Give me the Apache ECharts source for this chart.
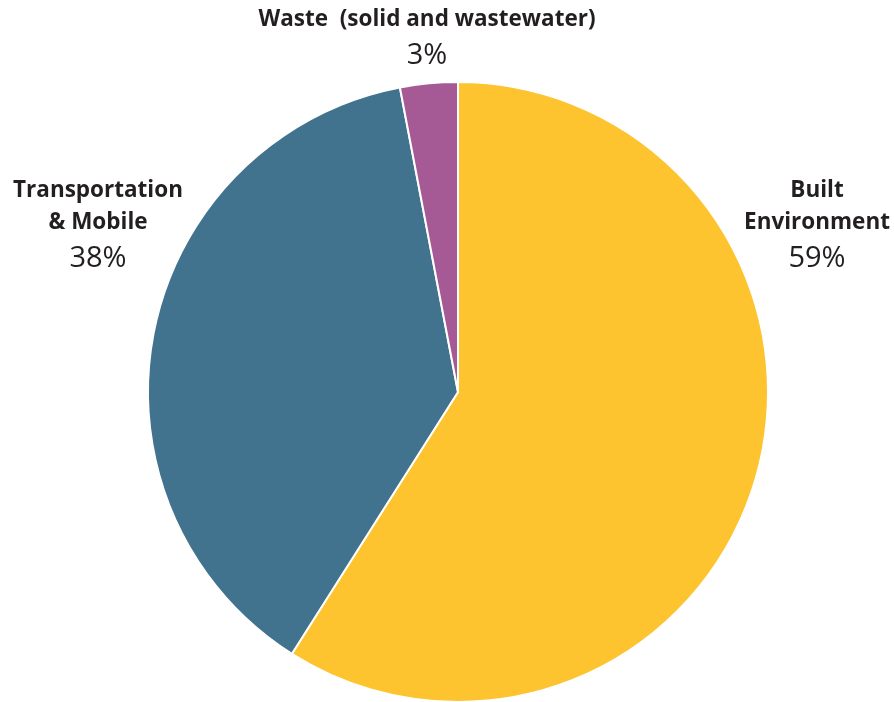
<!DOCTYPE html>
<html><head><meta charset="utf-8">
<script src="https://cdn.jsdelivr.net/npm/echarts@6/dist/echarts.min.js"></script>
<style>html,body{margin:0;padding:0;background:#fff}#c{width:894px;height:702px}</style>
</head><body><div id="c"></div>
<script>
const categories = ['Built\nEnvironment', 'Transportation\n& Mobile', 'Waste  (solid and wastewater)'];
const values = [59, 38, 3];
const colors = ['#FDC42F', '#41738E', '#A65A95'];
const labelPos = [[817, 227], [98, 227], [427, 40]];

const chart = echarts.init(document.getElementById('c'));
chart.setOption({
  animation: false,
  series: [{
    type: 'pie',
    center: [458, 392],
    radius: 310,
    startAngle: 90,
    clockwise: true,
    data: categories.map((n, i) => ({ name: n, value: values[i], itemStyle: { color: colors[i] } })),
    itemStyle: { borderColor: '#fff', borderWidth: 2 },
    emphasis: { disabled: true },
    labelLine: { show: false },
    label: {
      show: true,
      position: 'outside',
      overflow: 'none',
      color: '#231F20',
      fontFamily: 'Open Sans',
      align: 'center',
      formatter: p => p.name.split('\n').map(s => '{n|' + s + '}').join('\n') + '\n{p|' + p.value + '%}',
      rich: {
        n: { fontFamily: 'Open Sans', fontWeight: 'bold', fontSize: 22.5, lineHeight: 32, color: '#231F20', align: 'center' },
        p: { fontFamily: 'Open Sans', fontWeight: 'normal', fontSize: 29, lineHeight: 40, color: '#231F20', align: 'center' }
      }
    },
    labelLayout: p => ({ x: labelPos[p.dataIndex][0], y: labelPos[p.dataIndex][1], align: 'center', verticalAlign: 'middle' })
  }]
});
</script></body></html>
